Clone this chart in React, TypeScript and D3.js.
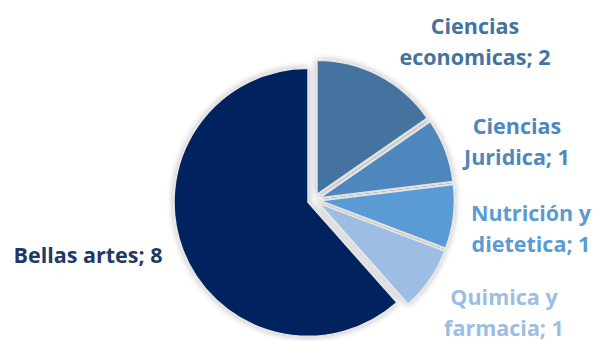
import React from "react";
import * as d3 from "d3";

const categories = ["Ciencias economicas", "Ciencias Juridica", "Nutrición y dietetica", "Quimica y farmacia", "Bellas artes"];
const values = [2, 1, 1, 1, 8];
const labelLines = [
  ["Ciencias", "economicas; 2"],
  ["Ciencias", "Juridica; 1"],
  ["Nutrición y", "dietetica; 1"],
  ["Quimica y", "farmacia; 1"],
  ["Bellas artes; 8"],
];
const colors = ["#44739F", "#4D87BD", "#5A9BD5", "#9DBDE3", "#03215F"];
const labelColors = ["#44739F", "#4D87BD", "#5A9BD5", "#9DBDE3", "#1F3864"];
const labelPos: [number, number][] = [
  [475, 34],
  [517, 134],
  [531, 221],
  [504, 305],
  [88, 263],
];

export default function App() {
  const W = 593, H = 341;
  const cx = 314, cy = 200, r = 134, explode = 6.4;
  const data = categories.map((c, i) => ({ c, v: values[i], i }));
  const pie = d3.pie<any>().sort(null).value((d: any) => d.v);
  const arcs = pie(data);
  const arc = d3.arc<any>().innerRadius(0).outerRadius(r);
  const lineH = 31;
  return (
    <svg width={W} height={H} style={{ position: "absolute", left: 0, top: 0, background: "#fff" }}
      fontFamily="'Open Sans', Lato, sans-serif">
      <defs>
        <filter id="sh" x="-20%" y="-20%" width="140%" height="140%">
          <feGaussianBlur in="SourceAlpha" stdDeviation="3.5" />
          <feComponentTransfer><feFuncA type="linear" slope="0.3" /></feComponentTransfer>
          <feMerge><feMergeNode /><feMergeNode in="SourceGraphic" /></feMerge>
        </filter>
      </defs>
      <g filter="url(#sh)">
        {arcs.map((a, k) => {
          const mid = (a.startAngle + a.endAngle) / 2;
          const dx = Math.sin(mid) * explode, dy = -Math.cos(mid) * explode;
          return (
            <path key={k} d={arc(a) as string} transform={`translate(${cx + dx},${cy + dy})`}
              fill={colors[k]} stroke="#e4e4e4" strokeWidth={1.5} strokeLinejoin="round" />
          );
        })}
      </g>
      {labelLines.map((lines, k) => (
        <text key={k} textAnchor="middle" fontWeight="bold" fontSize={21.5} fill={labelColors[k]}>
          {lines.map((t, j) => (
            <tspan key={j} x={labelPos[k][0]} y={labelPos[k][1] + j * lineH}>{t}</tspan>
          ))}
        </text>
      ))}
    </svg>
  );
}
